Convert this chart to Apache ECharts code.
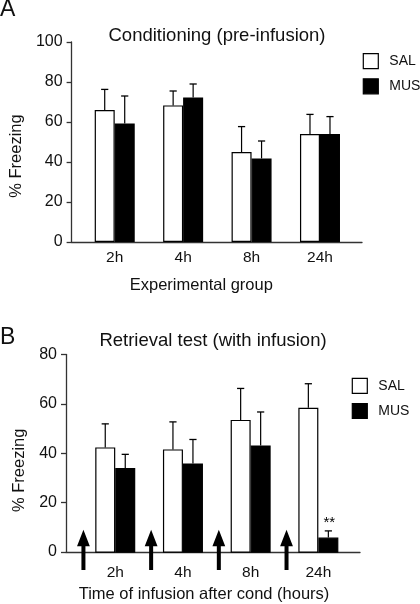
<!DOCTYPE html>
<html><head><meta charset="utf-8">
<script src="https://cdn.jsdelivr.net/npm/echarts@6/dist/echarts.min.js"></script>
<style>html,body{margin:0;padding:0;background:#fff}#c{width:420px;height:604px}</style>
</head><body><div id="c"></div>
<script>
// ---- data ----
const categories = ['2h', '4h', '8h', '24h'];
const condSAL    = [66, 68.3, 45, 54];
const condSALsem = [10.3, 7.2, 12.7, 9.8];
const condMUS    = [59.3, 72.3, 41.8, 54];
const condMUSsem = [13.7, 6.7, 8.7, 8.7];
const retrSAL    = [42.5, 41.7, 53.6, 58.5];
const retrSALsem = [9.5, 11.1, 12.7, 9.7];
const retrMUS    = [34.2, 36, 43.3, 6.1];
const retrMUSsem = [5.5, 9.7, 13.5, 2.7];
const retrMUSsig = ['', '', '', '**'];
const infusionArrows = ['2h', '4h', '8h', '24h'];
const condAxis = [0, 100, 20];  // min, max, interval
const retrAxis = [0, 80, 20];
const legendNames = ['SAL', 'MUS'];

const FONT = '"Liberation Sans", Arial, Helvetica, sans-serif';
const AX = '#333';
const BARW = 20;

function errData(mean, sem) { return mean.map((m, i) => [i, m, m + sem[i]]); }
function errRender(offset, sig) {
  return function (params, api) {
    const i = api.value(0);
    const base = api.coord([i, api.value(1)]);
    const top = api.coord([i, api.value(2)]);
    const x = base[0] + offset;
    const ch = [
      { type: 'line', shape: { x1: x, y1: base[1], x2: x, y2: top[1] }, style: { stroke: '#000', lineWidth: 1.2 } },
      { type: 'line', shape: { x1: x - 3.6, y1: top[1], x2: x + 3.6, y2: top[1] }, style: { stroke: '#000', lineWidth: 1.3 } }
    ];
    if (sig && sig[i]) {
      ch.push({ type: 'text', style: { text: sig[i], x: x + 1, y: top[1] - 1, align: 'center', verticalAlign: 'bottom', font: '15px ' + FONT, fill: '#000' } });
    }
    return { type: 'group', children: ch };
  };
}
function arrowRender(params, api) {
  const p = api.coord([api.value(0), 0]);
  const band = api.size([1, 0])[0];
  const x = p[0] - band * 0.47;
  const y = p[1];
  return {
    type: 'polygon',
    shape: { points: [[x, y - 23], [x + 6.4, y - 6.5], [x + 2, y - 6.5], [x + 2, y + 17.3], [x - 2, y + 17.3], [x - 2, y - 6.5], [x - 6.4, y - 6.5]] },
    style: { fill: '#000' }
  };
}
function barSeries(name, data, xi, yi, fill) {
  return {
    type: 'bar', name: name, data: data, xAxisIndex: xi, yAxisIndex: yi,
    barWidth: BARW, barGap: '0%',
    itemStyle: { color: fill, borderColor: '#000', borderWidth: 1.2 },
    silent: true, animation: false
  };
}
function legendCfg(left, top) {
  return {
    left: left, top: top, orient: 'vertical', padding: 0, itemGap: 9,
    itemWidth: 15, itemHeight: 15, icon: 'rect', selectedMode: false,
    textStyle: { fontFamily: FONT, fontSize: 14, color: '#111', padding: [0, 0, 0, 6] },
    data: [
      { name: legendNames[0], itemStyle: { color: '#fff', borderColor: '#000', borderWidth: 1.2 } },
      { name: legendNames[1], itemStyle: { color: '#000', borderColor: '#000', borderWidth: 1.2 } }
    ]
  };
}
function catAxis(gi, margin) {
  return {
    type: 'category', data: categories, gridIndex: gi,
    axisLine: { show: false }, axisTick: { show: false },
    axisLabel: { fontFamily: FONT, fontSize: 15.5, color: '#111', margin: margin }
  };
}
function lineXAxis(gi, name, gap, shiftPad) {
  return {
    type: 'value', gridIndex: gi, min: 0, max: 1,
    axisLine: { show: true, lineStyle: { color: AX, width: 1.3 } },
    axisTick: { show: false }, axisLabel: { show: false }, splitLine: { show: false },
    name: name, nameLocation: 'middle', nameGap: gap,
    nameTextStyle: { fontFamily: FONT, fontSize: 16.5, color: '#111', padding: [0, shiftPad, 0, 0] }
  };
}
function valYAxis(gi, ax, visible, shiftPad) {
  const o = { type: 'value', gridIndex: gi, min: ax[0], max: ax[1], interval: ax[2], splitLine: { show: false } };
  if (!visible) {
    o.show = false;
    return o;
  }
  o.axisLine = { show: true, lineStyle: { color: AX, width: 1.3 } };
  o.axisTick = { show: true, length: 5, lineStyle: { color: AX, width: 1.3 } };
  o.axisLabel = { fontFamily: FONT, fontSize: 16, color: '#111', margin: 9 };
  o.name = '% Freezing';
  o.nameLocation = 'middle';
  o.nameGap = 36;
  o.nameTextStyle = { fontFamily: FONT, fontSize: 16.5, color: '#111', padding: [0, shiftPad, 0, 0] };
  return o;
}

const chart = echarts.init(document.getElementById('c'), null, { renderer: 'canvas' });
chart.setOption({
  backgroundColor: '#fff',
  animation: false,
  textStyle: { fontFamily: FONT },
  grid: [
    { left: 80.5, width: 273.7, top: 42, height: 200 },
    { left: 66, width: 296, top: 42, height: 200 },
    { left: 81.4, width: 270.8, top: 354.5, height: 198.2 },
    { left: 66, width: 294, top: 354.5, height: 198.2 }
  ],
  xAxis: [
    catAxis(0, 8),
    lineXAxis(1, 'Experimental group', 35, 31),
    catAxis(2, 12),
    lineXAxis(3, 'Time of infusion after cond (hours)', 34, 18)
  ],
  yAxis: [
    valYAxis(0, condAxis, false),
    valYAxis(1, condAxis, true, 28),
    valYAxis(2, retrAxis, false),
    valYAxis(3, retrAxis, true, 34)
  ],
  legend: [legendCfg(362.7, 53), legendCfg(351.7, 377.7)],
  graphic: [
    { type: 'text', left: 0, top: -2, style: { text: 'A', font: '23px ' + FONT, fill: '#111' } },
    { type: 'text', left: 0, top: 326, style: { text: 'B', font: '23px ' + FONT, fill: '#111' } },
    { type: 'text', x: 217, y: 35.5, style: { text: 'Conditioning (pre-infusion)', font: '18.5px ' + FONT, fill: '#111', align: 'center', verticalAlign: 'middle' } },
    { type: 'text', x: 213, y: 340.5, style: { text: 'Retrieval test (with infusion)', font: '18.5px ' + FONT, fill: '#111', align: 'center', verticalAlign: 'middle' } }
  ],
  series: [
    barSeries('SAL', condSAL, 0, 0, '#fff'),
    barSeries('MUS', condMUS, 0, 0, '#000'),
    { type: 'custom', xAxisIndex: 0, yAxisIndex: 0, data: errData(condSAL, condSALsem), renderItem: errRender(-BARW / 2), z: 5, silent: true },
    { type: 'custom', xAxisIndex: 0, yAxisIndex: 0, data: errData(condMUS, condMUSsem), renderItem: errRender(BARW / 2), z: 5, silent: true },
    barSeries('SAL', retrSAL, 2, 2, '#fff'),
    barSeries('MUS', retrMUS, 2, 2, '#000'),
    { type: 'custom', xAxisIndex: 2, yAxisIndex: 2, data: errData(retrSAL, retrSALsem), renderItem: errRender(-BARW / 2), z: 5, silent: true },
    { type: 'custom', xAxisIndex: 2, yAxisIndex: 2, data: errData(retrMUS, retrMUSsem), renderItem: errRender(BARW / 2, retrMUSsig), z: 5, silent: true },
    { type: 'custom', xAxisIndex: 2, yAxisIndex: 2, data: infusionArrows.map(c => [c, 0]), renderItem: arrowRender, z: 10, clip: false, silent: true }
  ]
});
</script>
</body></html>
